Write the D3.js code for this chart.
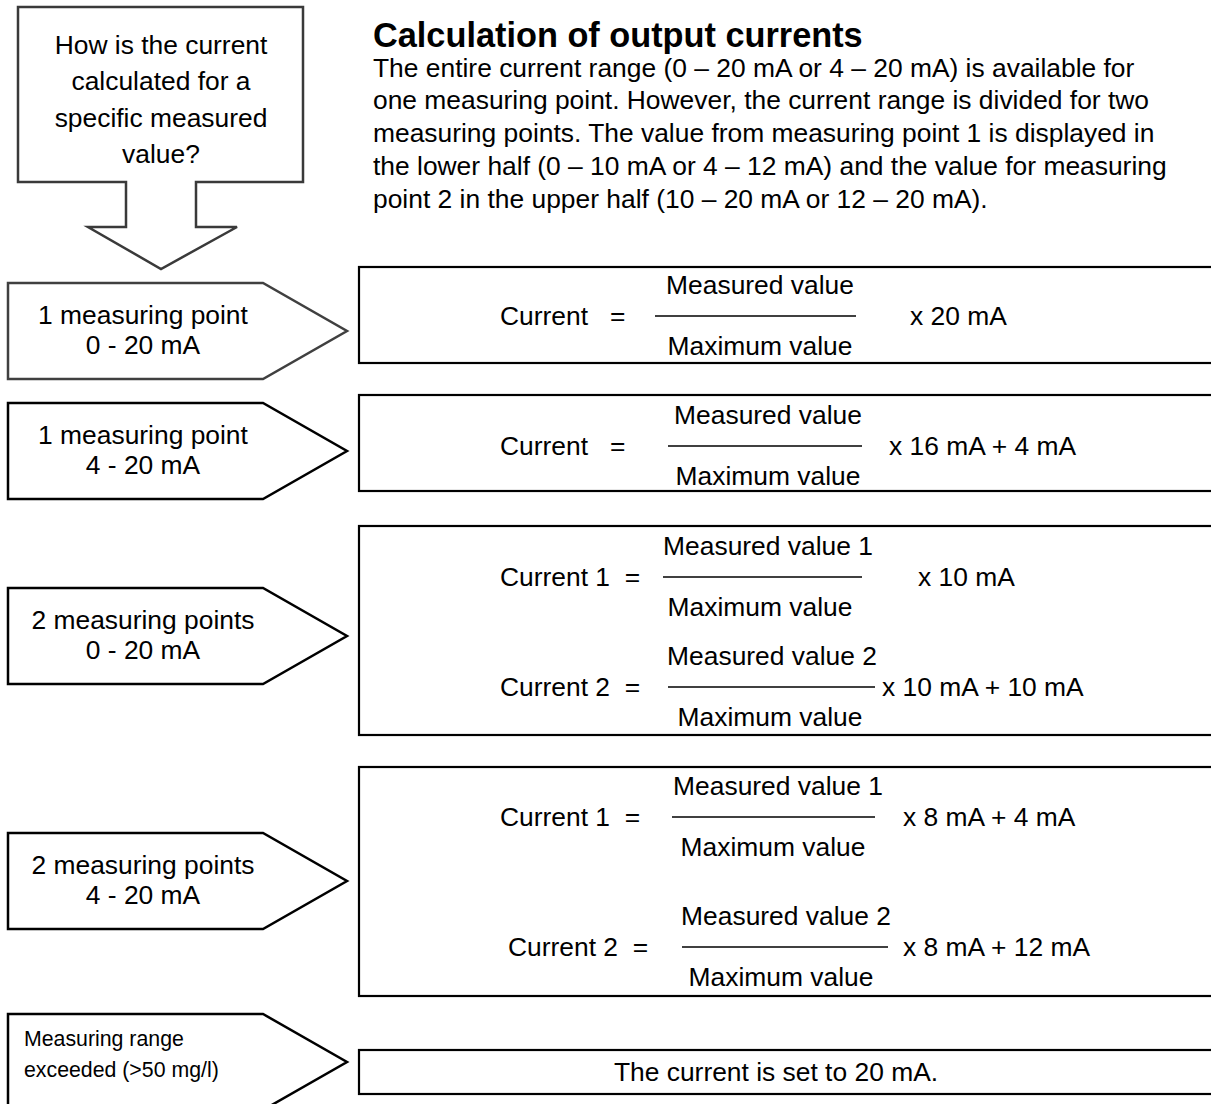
<!DOCTYPE html>
<html>
<head>
<meta charset="utf-8">
<script src="https://cdn.jsdelivr.net/npm/d3@7"></script>
<style>
  html, body { margin: 0; padding: 0; background: #fff; }
  svg { display: block; }
  text { font-family: "Liberation Sans", Arial, sans-serif; fill: #000; white-space: pre; }
</style>
</head>
<body>
<div id="chart"></div>
<script>
// ---- texts ----
var title = "Calculation of output currents";
var paragraph = [
  "The entire current range (0 \u2013 20 mA or 4 \u2013 20 mA) is available for",
  "one measuring point. However, the current range is divided for two",
  "measuring points. The value from measuring point 1 is displayed in",
  "the lower half (0 \u2013 10 mA or 4 \u2013 12 mA) and the value for measuring",
  "point 2 in the upper half (10 \u2013 20 mA or 12 \u2013 20 mA)."
];
var question = ["How is the current", "calculated for a", "specific measured", "value?"];
var caseLabels = [
  ["1 measuring point", "0 - 20 mA"],
  ["1 measuring point", "4 - 20 mA"],
  ["2 measuring points", "0 - 20 mA"],
  ["2 measuring points", "4 - 20 mA"],
  ["Measuring range", "exceeded (>50 mg/l)"]
];
var lhs = ["Current   =", "Current   =", "Current 1  =", "Current 2  =", "Current 1  =", "Current 2  ="];
var numerators = ["Measured value", "Measured value", "Measured value 1", "Measured value 2", "Measured value 1", "Measured value 2"];
var denominators = ["Maximum value", "Maximum value", "Maximum value", "Maximum value", "Maximum value", "Maximum value"];
var factors = ["x 20 mA", "x 16 mA + 4 mA", "x 10 mA", "x 10 mA + 10 mA", "x 8 mA + 4 mA", "x 8 mA + 12 mA"];
var overflowText = "The current is set to 20 mA.";

// ---- layout ----
var W = 1211, H = 1104, FS = 26.4;
var caseTops = [283, 403, 588, 833, 1014];
var caseH = 96;
var boxes = [[267, 363], [395, 491], [526, 735], [767, 996], [1050, 1094]];
// formula rows: centre y, lhs x, fraction line x0/x1, numerator / denominator centres, factor x
var rows = [
  {cy: 316, lx: 500, x0: 655, x1: 856, nc: 760, dc: 760, fx: 910},
  {cy: 446, lx: 500, x0: 668, x1: 862, nc: 768, dc: 768, fx: 889},
  {cy: 577, lx: 500, x0: 663, x1: 862, nc: 768, dc: 760, fx: 918},
  {cy: 687, lx: 500, x0: 668, x1: 875, nc: 772, dc: 770, fx: 882},
  {cy: 817, lx: 500, x0: 672, x1: 875, nc: 778, dc: 773, fx: 903},
  {cy: 947, lx: 508, x0: 682, x1: 888, nc: 786, dc: 781, fx: 903}
];

var svg = d3.select("#chart").append("svg")
  .attr("width", W).attr("height", H);

var line = d3.line();

// question callout with down arrow
var callout = [[18, 7], [303, 7], [303, 182], [196, 182], [196, 227], [237, 227], [161, 269],
  [88, 227], [126, 227], [126, 182], [18, 182]];
svg.append("path")
  .attr("d", line(callout) + "Z")
  .attr("fill", "#fff").attr("stroke", "#3a3a3a").attr("stroke-width", 2.5)
  .attr("stroke-linejoin", "miter");

svg.append("g").selectAll("text")
  .data(question).join("text")
  .attr("x", 161)
  .attr("y", function(d, i) { return 45 + i * 36.3; })
  .attr("text-anchor", "middle")
  .attr("dominant-baseline", "central")
  .style("font-size", FS + "px")
  .text(function(d) { return d; });

// title and paragraph
svg.append("text")
  .attr("x", 373).attr("y", 35)
  .attr("dominant-baseline", "central")
  .style("font-size", "34.3px").style("font-weight", "bold")
  .text(title);

svg.append("g").selectAll("text")
  .data(paragraph).join("text")
  .attr("x", 373)
  .attr("y", function(d, i) { return 67.5 + i * 32.8; })
  .attr("dominant-baseline", "central")
  .style("font-size", FS + "px")
  .text(function(d) { return d; });

// case arrows
var cases = svg.append("g").selectAll("g")
  .data(caseLabels).join("g");

cases.append("path")
  .attr("d", function(d, i) {
    var t = caseTops[i], b = t + caseH, m = t + caseH / 2;
    return line([[8, t], [263, t], [347, m], [263, b], [8, b]]) + "Z";
  })
  .attr("fill", "#fff")
  .attr("stroke", function(d, i) { return i === 0 ? "#404040" : "#000"; })
  .attr("stroke-width", 2.5);

cases.each(function(d, i) {
  var g = d3.select(this), m = caseTops[i] + caseH / 2;
  var small = i === 4;
  g.selectAll("text").data(d).join("text")
    .attr("x", small ? 24 : 143)
    .attr("y", function(t, j) { return small ? m - 23 + j * 31 : m - 16 + j * 30; })
    .attr("text-anchor", small ? "start" : "middle")
    .attr("dominant-baseline", "central")
    .style("font-size", (small ? 21.3 : FS) + "px")
    .text(function(t) { return t; });
});

// result boxes
svg.append("g").selectAll("rect")
  .data(boxes).join("rect")
  .attr("x", 359).attr("y", function(d) { return d[0]; })
  .attr("width", 880).attr("height", function(d) { return d[1] - d[0]; })
  .attr("fill", "none").attr("stroke", "#000").attr("stroke-width", 2.2);

// formulas
var f = svg.append("g").selectAll("g")
  .data(rows).join("g");

f.append("text")
  .attr("x", function(d) { return d.lx; })
  .attr("y", function(d) { return d.cy; })
  .attr("dominant-baseline", "central")
  .style("font-size", FS + "px")
  .text(function(d, i) { return lhs[i]; });

f.append("line")
  .attr("x1", function(d) { return d.x0; })
  .attr("x2", function(d) { return d.x1; })
  .attr("y1", function(d) { return d.cy; })
  .attr("y2", function(d) { return d.cy; })
  .attr("stroke", "#000").attr("stroke-width", 1.6);

f.append("text")
  .attr("x", function(d) { return d.nc; })
  .attr("y", function(d) { return d.cy - 31; })
  .attr("text-anchor", "middle")
  .attr("dominant-baseline", "central")
  .style("font-size", FS + "px")
  .text(function(d, i) { return numerators[i]; });

f.append("text")
  .attr("x", function(d) { return d.dc; })
  .attr("y", function(d) { return d.cy + 30; })
  .attr("text-anchor", "middle")
  .attr("dominant-baseline", "central")
  .style("font-size", FS + "px")
  .text(function(d, i) { return denominators[i]; });

f.append("text")
  .attr("x", function(d) { return d.fx; })
  .attr("y", function(d) { return d.cy; })
  .attr("dominant-baseline", "central")
  .style("font-size", FS + "px")
  .text(function(d, i) { return factors[i]; });

svg.append("text")
  .attr("x", 776).attr("y", 1072)
  .attr("text-anchor", "middle")
  .attr("dominant-baseline", "central")
  .style("font-size", FS + "px")
  .text(overflowText);
</script>
</body>
</html>
